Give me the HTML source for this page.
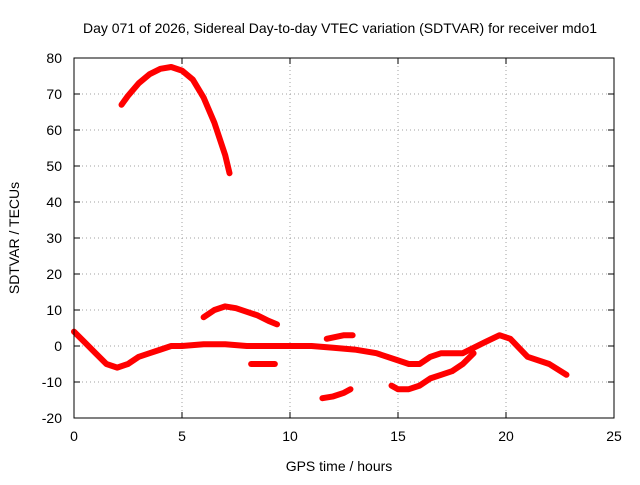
<!DOCTYPE html>
<html><head><meta charset="utf-8"><style>
body{margin:0;background:#fff}
svg text{font-family:"Liberation Sans",sans-serif;font-size:14px;fill:#000}
</style></head><body>
<svg id="chart" width="640" height="480" xmlns="http://www.w3.org/2000/svg">
<rect width="640" height="480" fill="#fff"/>
<g id="grid"></g><g id="series"></g><g id="axes"></g>
<text x="340" y="33" text-anchor="middle">Day 071 of 2026, Sidereal Day-to-day VTEC variation (SDTVAR) for receiver mdo1</text>
<text x="339" y="471" text-anchor="middle">GPS time / hours</text>
<text transform="translate(19,238) rotate(-90)" text-anchor="middle">SDTVAR / TECUs</text>
</svg>
<script>
const xTicks=[0,5,10,15,20,25];
const yTicks=[-20,-10,0,10,20,30,40,50,60,70,80];
const arcHours=[2.2,2.5,3,3.5,4,4.5,5,5.5,6,6.5,7,7.2];
const arcVals=[67,69.5,73,75.5,77,77.5,76.5,74,69,62,53,48];
const bumpHours=[6,6.5,7,7.5,8,8.5,9,9.4];
const bumpVals=[8,10,11,10.5,9.5,8.5,7,6];
const baseHours=[0,0.5,1,1.5,2,2.5,3,3.5,4,4.5,5,6,7,8,9,10,11,12,13,14,15,15.5,16,16.5,17,18,19,19.7,20.2,21,22,22.8];
const baseVals=[4,1,-2,-5,-6,-5,-3,-2,-1,0,0,0.5,0.5,0,0,0,0,-0.5,-1,-2,-4,-5,-5,-3,-2,-2,1,3,2,-3,-5,-8];
const flatHours=[8.2,9.3];
const flatVals=[-5,-5];
const lowHours=[11.5,12,12.5,12.8];
const lowVals=[-14.5,-14,-13,-12];
const smallHours=[11.7,12.5,12.9];
const smallVals=[2,3,3];
const dipHours=[14.7,15,15.5,16,16.5,17,17.5,18,18.5];
const dipVals=[-11,-12,-12,-11,-9,-8,-7,-5,-2];
const NS="http://www.w3.org/2000/svg";
const X=h=>74+h*21.6, Y=v=>418-(v+20)*3.6;
const grid=document.getElementById('grid'),axes=document.getElementById('axes'),ser=document.getElementById('series');
function mk(tag,at,p){const e=document.createElementNS(NS,tag);for(const k in at)e.setAttribute(k,at[k]);p.appendChild(e);return e;}
xTicks.forEach(t=>{
 if(t>0&&t<25){const l=mk('line',{x1:X(t),x2:X(t),y1:58,y2:418,stroke:'#a0a0a0','stroke-dasharray':'1,3'},grid);
 
 }
 const tx=mk('text',{x:X(t),y:441,'text-anchor':'middle'},axes);tx.textContent=t;
 
 
 mk('line',{x1:X(t),x2:X(t),y1:418,y2:412,stroke:'#000'},axes);mk('line',{x1:X(t),x2:X(t),y1:58,y2:64,stroke:'#000'},axes);
});
yTicks.forEach(t=>{
 if(t>-20&&t<80){const l=mk('line',{x1:74,x2:614,y1:Y(t),y2:Y(t),stroke:'#a0a0a0','stroke-dasharray':'1,3'},grid);
 
 }
 const tx=mk('text',{x:62,y:Y(t)+5,'text-anchor':'end'},axes);tx.textContent=t;
 
 
 mk('line',{x1:74,x2:80,y1:Y(t),y2:Y(t),stroke:'#000'},axes);mk('line',{x1:614,x2:608,y1:Y(t),y2:Y(t),stroke:'#000'},axes);
});
const fr=mk('rect',{x:74,y:58,width:540,height:360,fill:'none',stroke:'#000'},axes);


function draw(hs,vs,name){
 const p=mk('polyline',{points:hs.map((h,i)=>X(h)+','+Y(vs[i])).join(' '),fill:'none',stroke:'#f00','stroke-width':6,'stroke-linejoin':'round','stroke-linecap':'round'},ser);
 
 
}
draw(arcHours,arcVals,'series-arc');
draw(bumpHours,bumpVals,'series-bump');
draw(baseHours,baseVals,'series-baseline');
draw(flatHours,flatVals,'series-flat');
draw(lowHours,lowVals,'series-low');
draw(smallHours,smallVals,'series-small');
draw(dipHours,dipVals,'series-dip');
</script>
</body></html>
